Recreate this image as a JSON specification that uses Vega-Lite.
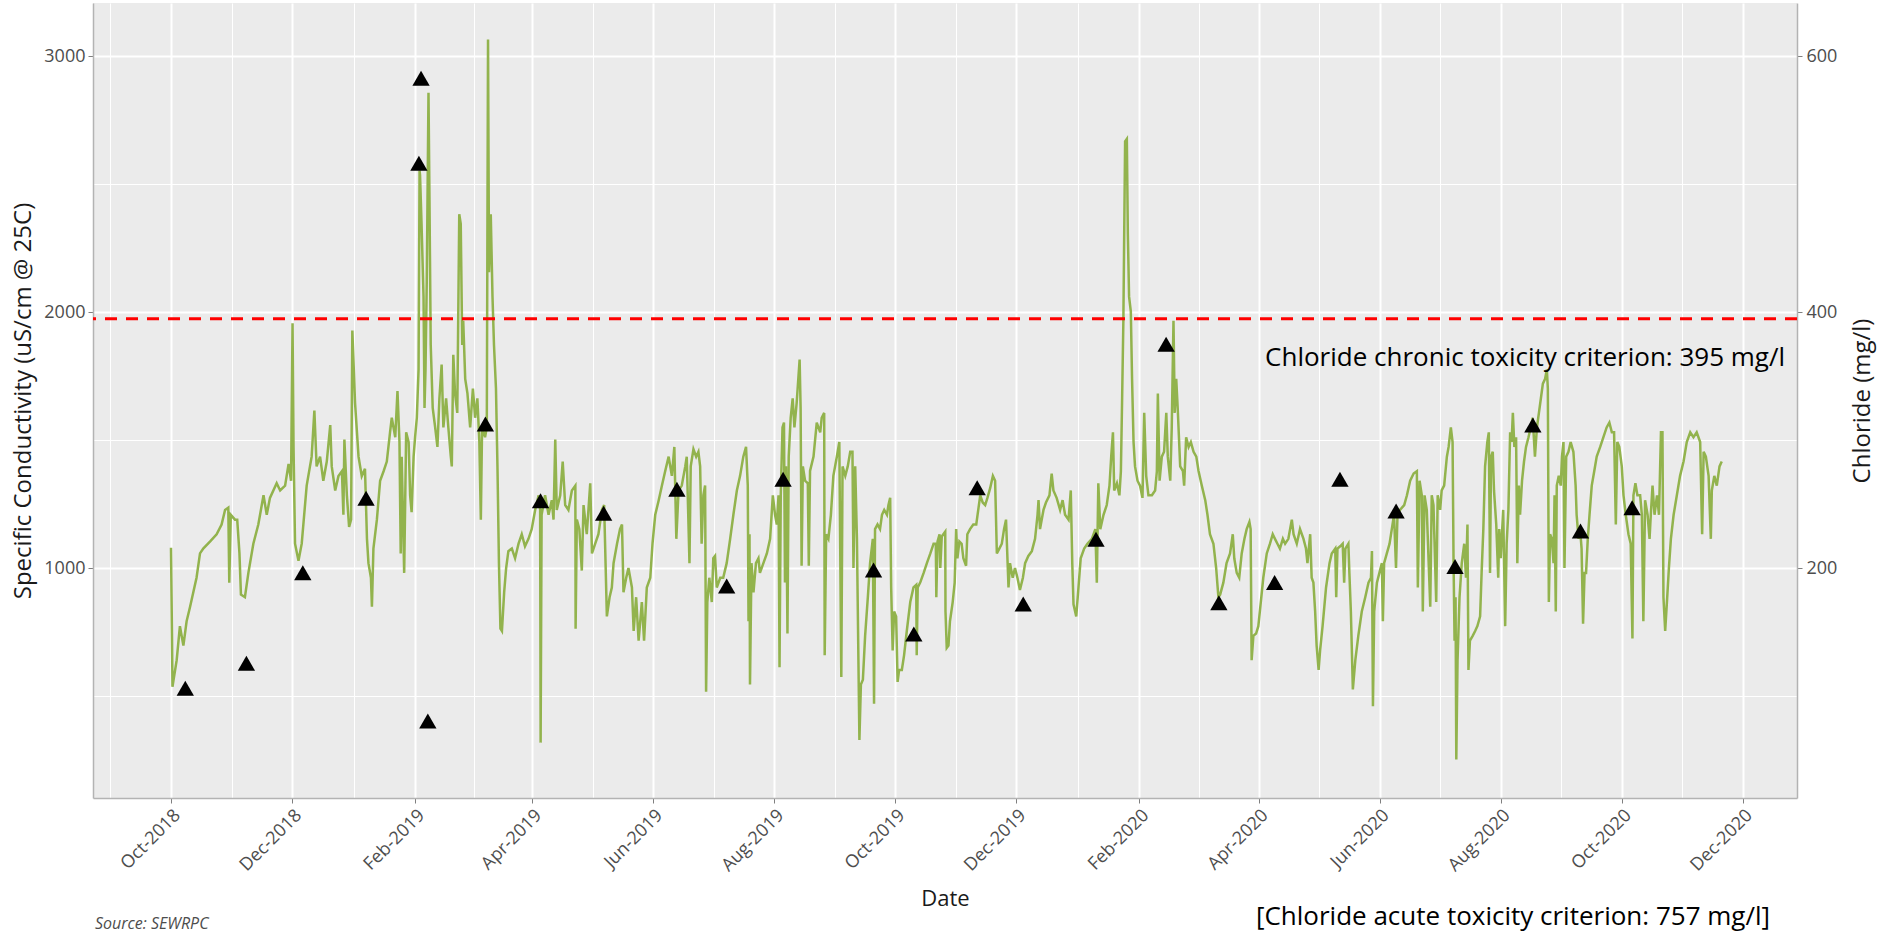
{
"$schema": "https://vega.github.io/schema/vega-lite/v6.json",
"width": 1704, "height": 795,
"autosize": {"type": "none"},
"padding": {"left": 93, "top": 3, "right": 84, "bottom": 136},
"background": "white",
"config": {
  "font": "Open Sans",
  "view": {"fill": "#ebebeb", "stroke": null},
  "axis": {"domainColor": "#b3b3b3", "domainWidth": 1.5, "tickColor": "#7f7f7f", "tickSize": 5, "gridColor": "#ffffff", "labelColor": "#4d4d4d", "labelFont": "Open Sans", "labelFontSize": 18, "titleFont": "Open Sans", "titleFontWeight": "normal", "titleColor": "#1a1a1a"}
},
"layer": [
 {"layer": [
  {"data": {"values": [
{"date":"2018-10-01T00:00","sc":1080},{"date":"2018-10-01T12:00","sc":745},{"date":"2018-10-01T18:00","sc":537},{"date":"2018-10-03T21:00","sc":641},{"date":"2018-10-05T12:00","sc":774},{"date":"2018-10-07T06:00","sc":698},{"date":"2018-10-08T21:00","sc":793},{"date":"2018-10-10T15:00","sc":850},{"date":"2018-10-12T06:00","sc":906},{"date":"2018-10-13T21:00","sc":963},{"date":"2018-10-15T15:00","sc":1058},{"date":"2018-10-17T06:00","sc":1077},{"date":"2018-10-20T18:00","sc":1105},{"date":"2018-10-24T00:00","sc":1133},{"date":"2018-10-26T12:00","sc":1171},{"date":"2018-10-28T06:00","sc":1228},{"date":"2018-10-29T21:00","sc":1237},{"date":"2018-10-30T09:00","sc":944},{"date":"2018-10-31T03:00","sc":1209},{"date":"2018-11-02T06:00","sc":1190},{"date":"2018-11-03T09:00","sc":1190},{"date":"2018-11-04T12:00","sc":1058},{"date":"2018-11-05T06:00","sc":897},{"date":"2018-11-07T06:00","sc":887},{"date":"2018-11-09T00:00","sc":982},{"date":"2018-11-11T12:00","sc":1096},{"date":"2018-11-14T00:00","sc":1171},{"date":"2018-11-16T15:00","sc":1285},{"date":"2018-11-18T06:00","sc":1209},{"date":"2018-11-19T21:00","sc":1275},{"date":"2018-11-23T06:00","sc":1332},{"date":"2018-11-25T00:00","sc":1304},{"date":"2018-11-27T12:00","sc":1323},{"date":"2018-11-29T06:00","sc":1408},{"date":"2018-11-30T12:00","sc":1342},{"date":"2018-12-01T06:00","sc":1957},{"date":"2018-12-01T18:00","sc":1474},{"date":"2018-12-02T12:00","sc":1096},{"date":"2018-12-04T06:00","sc":1029},{"date":"2018-12-05T21:00","sc":1096},{"date":"2018-12-08T09:00","sc":1323},{"date":"2018-12-10T21:00","sc":1436},{"date":"2018-12-12T06:00","sc":1616},{"date":"2018-12-13T09:00","sc":1398},{"date":"2018-12-15T03:00","sc":1436},{"date":"2018-12-16T18:00","sc":1342},{"date":"2018-12-18T12:00","sc":1417},{"date":"2018-12-20T06:00","sc":1559},{"date":"2018-12-21T00:00","sc":1398},{"date":"2018-12-22T18:00","sc":1304},{"date":"2018-12-24T09:00","sc":1360},{"date":"2018-12-26T03:00","sc":1379},{"date":"2018-12-26T21:00","sc":1209},{"date":"2018-12-27T09:00","sc":1503},{"date":"2018-12-28T15:00","sc":1285},{"date":"2018-12-29T18:00","sc":1162},{"date":"2018-12-30T18:00","sc":1190},{"date":"2018-12-31T09:00","sc":1929},{"date":"2019-01-01T18:00","sc":1645},{"date":"2019-01-03T12:00","sc":1436},{"date":"2019-01-05T03:00","sc":1360},{"date":"2019-01-06T18:00","sc":1389},{"date":"2019-01-07T18:00","sc":1115},{"date":"2019-01-08T12:00","sc":1020},{"date":"2019-01-09T18:00","sc":963},{"date":"2019-01-10T06:00","sc":850},{"date":"2019-01-11T00:00","sc":1077},{"date":"2019-01-12T18:00","sc":1190},{"date":"2019-01-14T09:00","sc":1342},{"date":"2019-01-16T03:00","sc":1379},{"date":"2019-01-17T18:00","sc":1417},{"date":"2019-01-19T09:00","sc":1531},{"date":"2019-01-20T06:00","sc":1588},{"date":"2019-01-22T00:00","sc":1512},{"date":"2019-01-23T03:00","sc":1692},{"date":"2019-01-24T03:00","sc":1493},{"date":"2019-01-24T18:00","sc":1058},{"date":"2019-01-25T06:00","sc":1436},{"date":"2019-01-26T12:00","sc":982},{"date":"2019-01-27T12:00","sc":1531},{"date":"2019-01-28T18:00","sc":1493},{"date":"2019-01-29T12:00","sc":1285},{"date":"2019-01-30T06:00","sc":1219},{"date":"2019-01-31T06:00","sc":1436},{"date":"2019-02-01T00:00","sc":1512},{"date":"2019-02-01T21:00","sc":1588},{"date":"2019-02-02T18:00","sc":1777},{"date":"2019-02-03T06:00","sc":2554},
{"date":"2019-02-03T12:00","sc":2535},{"date":"2019-02-04T06:00","sc":2345},{"date":"2019-02-05T06:00","sc":2061},{"date":"2019-02-05T18:00","sc":1626},{"date":"2019-02-06T06:00","sc":1777},{"date":"2019-02-06T21:00","sc":2118},{"date":"2019-02-07T18:00","sc":2857},{"date":"2019-02-08T06:00","sc":2440},{"date":"2019-02-08T21:00","sc":1872},{"date":"2019-02-09T21:00","sc":1626},{"date":"2019-02-11T03:00","sc":1550},{"date":"2019-02-12T06:00","sc":1474},{"date":"2019-02-13T06:00","sc":1664},{"date":"2019-02-14T09:00","sc":1796},{"date":"2019-02-15T06:00","sc":1550},{"date":"2019-02-16T15:00","sc":1664},{"date":"2019-02-17T18:00","sc":1550},{"date":"2019-02-19T00:00","sc":1436},{"date":"2019-02-19T12:00","sc":1398},{"date":"2019-02-20T06:00","sc":1834},{"date":"2019-02-21T03:00","sc":1683},{"date":"2019-02-22T06:00","sc":1607},{"date":"2019-02-23T06:00","sc":2383},{"date":"2019-02-24T00:00","sc":2345},{"date":"2019-02-24T18:00","sc":1872},{"date":"2019-02-25T06:00","sc":1967},{"date":"2019-02-26T06:00","sc":1740},{"date":"2019-02-27T09:00","sc":1683},{"date":"2019-02-28T18:00","sc":1550},{"date":"2019-03-02T03:00","sc":1702},{"date":"2019-03-03T06:00","sc":1588},{"date":"2019-03-04T09:00","sc":1664},{"date":"2019-03-05T09:00","sc":1493},{"date":"2019-03-06T03:00","sc":1190},{"date":"2019-03-06T18:00","sc":1550},{"date":"2019-03-08T06:00","sc":1512},{"date":"2019-03-09T03:00","sc":1550},{"date":"2019-03-09T18:00","sc":3065},{"date":"2019-03-10T06:00","sc":2156},{"date":"2019-03-11T03:00","sc":2383},{"date":"2019-03-12T00:00","sc":2061},{"date":"2019-03-12T18:00","sc":1872},{"date":"2019-03-13T18:00","sc":1702},{"date":"2019-03-14T12:00","sc":1398},{"date":"2019-03-15T06:00","sc":1020},{"date":"2019-03-16T00:00","sc":764},{"date":"2019-03-16T18:00","sc":755},{"date":"2019-03-17T21:00","sc":906},{"date":"2019-03-18T21:00","sc":1001},{"date":"2019-03-20T00:00","sc":1067},{"date":"2019-03-21T18:00","sc":1077},{"date":"2019-03-23T09:00","sc":1039},{"date":"2019-03-25T03:00","sc":1096},{"date":"2019-03-26T18:00","sc":1133},{"date":"2019-03-28T09:00","sc":1086},{"date":"2019-03-30T03:00","sc":1115},{"date":"2019-03-31T18:00","sc":1153},{"date":"2019-04-02T12:00","sc":1228},{"date":"2019-04-04T06:00","sc":1285},{"date":"2019-04-05T00:00","sc":1228},{"date":"2019-04-05T06:00","sc":319},{"date":"2019-04-05T18:00","sc":1209},{"date":"2019-04-07T12:00","sc":1285},{"date":"2019-04-09T06:00","sc":1209},{"date":"2019-04-10T21:00","sc":1266},{"date":"2019-04-11T18:00","sc":1190},{"date":"2019-04-12T15:00","sc":1503},{"date":"2019-04-13T09:00","sc":1228},{"date":"2019-04-15T03:00","sc":1285},{"date":"2019-04-16T09:00","sc":1417},{"date":"2019-04-17T15:00","sc":1247},{"date":"2019-04-19T06:00","sc":1228},{"date":"2019-04-21T00:00","sc":1304},{"date":"2019-04-22T18:00","sc":1323},{"date":"2019-04-22T21:00","sc":764},{"date":"2019-04-23T12:00","sc":1190},{"date":"2019-04-24T18:00","sc":1153},{"date":"2019-04-26T00:00","sc":991},{"date":"2019-04-26T21:00","sc":1247},{"date":"2019-04-28T12:00","sc":1133},{"date":"2019-04-30T06:00","sc":1332},{"date":"2019-05-01T03:00","sc":1058},{"date":"2019-05-02T18:00","sc":1096},{"date":"2019-05-04T09:00","sc":1133},{"date":"2019-05-06T03:00","sc":1228},{"date":"2019-05-07T06:00","sc":1247},{"date":"2019-05-08T15:00","sc":812},{"date":"2019-05-10T00:00","sc":887},{"date":"2019-05-11T03:00","sc":925},{"date":"2019-05-12T00:00","sc":1020},{"date":"2019-05-13T18:00","sc":1096},{"date":"2019-05-15T06:00","sc":1153},{"date":"2019-05-16T06:00","sc":1171},{"date":"2019-05-17T00:00","sc":906},{"date":"2019-05-18T09:00","sc":963},{"date":"2019-05-19T12:00","sc":1001},{"date":"2019-05-21T06:00","sc":925},{"date":"2019-05-22T03:00","sc":755},{"date":"2019-05-23T09:00","sc":887},{"date":"2019-05-24T15:00","sc":717},{"date":"2019-05-26T06:00","sc":868},{"date":"2019-05-27T09:00","sc":717},{"date":"2019-05-28T18:00","sc":925},{"date":"2019-05-30T12:00","sc":963},{"date":"2019-05-31T15:00","sc":1096},{"date":"2019-06-02T00:00","sc":1209},{"date":"2019-06-03T18:00","sc":1266},{"date":"2019-06-05T09:00","sc":1323},{"date":"2019-06-07T00:00","sc":1379},{"date":"2019-06-08T18:00","sc":1436},{"date":"2019-06-10T09:00","sc":1361},{"date":"2019-06-11T15:00","sc":1474},{"date":"2019-06-12T15:00","sc":1115},{"date":"2019-06-13T18:00","sc":1304},{"date":"2019-06-15T09:00","sc":1323},{"date":"2019-06-17T03:00","sc":1398},
{"date":"2019-06-17T21:00","sc":1436},{"date":"2019-06-19T06:00","sc":1020},{"date":"2019-06-19T21:00","sc":1398},{"date":"2019-06-21T06:00","sc":1465},{"date":"2019-06-22T15:00","sc":1436},{"date":"2019-06-23T18:00","sc":1455},{"date":"2019-06-24T15:00","sc":1398},{"date":"2019-06-25T09:00","sc":1096},{"date":"2019-06-26T06:00","sc":1285},{"date":"2019-06-27T03:00","sc":1323},{"date":"2019-06-27T15:00","sc":518},{"date":"2019-06-28T06:00","sc":868},{"date":"2019-06-29T06:00","sc":963},{"date":"2019-06-30T12:00","sc":868},{"date":"2019-07-01T06:00","sc":1039},{"date":"2019-07-02T03:00","sc":1048},{"date":"2019-07-03T00:00","sc":925},{"date":"2019-07-04T18:00","sc":963},{"date":"2019-07-06T06:00","sc":963},{"date":"2019-07-08T00:00","sc":1020},{"date":"2019-07-09T18:00","sc":1115},{"date":"2019-07-11T09:00","sc":1209},{"date":"2019-07-13T03:00","sc":1304},{"date":"2019-07-14T18:00","sc":1361},{"date":"2019-07-16T09:00","sc":1436},{"date":"2019-07-17T18:00","sc":1474},{"date":"2019-07-18T15:00","sc":1323},{"date":"2019-07-19T00:00","sc":793},{"date":"2019-07-19T12:00","sc":1133},{"date":"2019-07-19T18:00","sc":546},{"date":"2019-07-20T12:00","sc":1020},{"date":"2019-07-21T12:00","sc":906},{"date":"2019-07-22T18:00","sc":1020},{"date":"2019-07-24T00:00","sc":1039},{"date":"2019-07-24T18:00","sc":982},{"date":"2019-07-26T12:00","sc":1020},{"date":"2019-07-28T06:00","sc":1058},{"date":"2019-07-29T21:00","sc":1115},{"date":"2019-07-31T06:00","sc":1285},{"date":"2019-08-01T09:00","sc":1209},{"date":"2019-08-02T06:00","sc":1171},{"date":"2019-08-03T03:00","sc":1285},{"date":"2019-08-03T15:00","sc":613},{"date":"2019-08-04T06:00","sc":1285},{"date":"2019-08-05T03:00","sc":1550},{"date":"2019-08-05T21:00","sc":1569},{"date":"2019-08-06T09:00","sc":944},{"date":"2019-08-06T21:00","sc":1398},{"date":"2019-08-07T15:00","sc":745},{"date":"2019-08-08T06:00","sc":1436},{"date":"2019-08-09T06:00","sc":1588},{"date":"2019-08-10T06:00","sc":1664},{"date":"2019-08-11T03:00","sc":1550},{"date":"2019-08-12T06:00","sc":1645},{"date":"2019-08-13T18:00","sc":1815},{"date":"2019-08-14T06:00","sc":1626},{"date":"2019-08-14T18:00","sc":1010},{"date":"2019-08-15T09:00","sc":1398},{"date":"2019-08-16T12:00","sc":1342},{"date":"2019-08-17T21:00","sc":1332},{"date":"2019-08-18T09:00","sc":1010},{"date":"2019-08-19T00:00","sc":1380},{"date":"2019-08-20T18:00","sc":1436},{"date":"2019-08-22T09:00","sc":1569},{"date":"2019-08-24T03:00","sc":1531},{"date":"2019-08-24T21:00","sc":1588},{"date":"2019-08-26T03:00","sc":1607},{"date":"2019-08-26T09:00","sc":660},{"date":"2019-08-27T03:00","sc":1133},{"date":"2019-08-28T06:00","sc":1115},{"date":"2019-08-29T12:00","sc":1209},{"date":"2019-08-30T18:00","sc":1361},{"date":"2019-09-01T12:00","sc":1436},{"date":"2019-09-02T18:00","sc":1493},{"date":"2019-09-03T18:00","sc":575},{"date":"2019-09-04T09:00","sc":1398},{"date":"2019-09-05T18:00","sc":1361},{"date":"2019-09-07T00:00","sc":1398},{"date":"2019-09-08T06:00","sc":1455},{"date":"2019-09-09T09:00","sc":1455},{"date":"2019-09-09T21:00","sc":1001},{"date":"2019-09-10T18:00","sc":1398},{"date":"2019-09-11T15:00","sc":1115},{"date":"2019-09-12T09:00","sc":641},{"date":"2019-09-12T21:00","sc":329},{"date":"2019-09-13T15:00","sc":546},{"date":"2019-09-14T15:00","sc":565},{"date":"2019-09-15T18:00","sc":736},{"date":"2019-09-17T03:00","sc":887},{"date":"2019-09-18T06:00","sc":1020},{"date":"2019-09-19T15:00","sc":1115},{"date":"2019-09-20T06:00","sc":471},{"date":"2019-09-20T18:00","sc":1153},{"date":"2019-09-22T00:00","sc":1171},{"date":"2019-09-23T06:00","sc":1153},{"date":"2019-09-24T06:00","sc":1209},{"date":"2019-09-25T09:00","sc":1228},{"date":"2019-09-26T18:00","sc":1209},{"date":"2019-09-27T12:00","sc":1247},{"date":"2019-09-28T09:00","sc":1275},{"date":"2019-09-28T21:00","sc":925},{"date":"2019-09-29T15:00","sc":679},{"date":"2019-09-30T09:00","sc":831},{"date":"2019-10-01T09:00","sc":812},{"date":"2019-10-02T03:00","sc":556},{"date":"2019-10-02T21:00","sc":603},{"date":"2019-10-04T06:00","sc":603},{"date":"2019-10-05T09:00","sc":660},{"date":"2019-10-06T18:00","sc":755},{"date":"2019-10-08T12:00","sc":868},{"date":"2019-10-10T03:00","sc":925},{"date":"2019-10-11T12:00","sc":935},{"date":"2019-10-11T18:00","sc":660},{"date":"2019-10-12T06:00","sc":925},{"date":"2019-10-13T12:00","sc":944},{"date":"2019-10-15T06:00","sc":982},{"date":"2019-10-16T21:00","sc":1020},{"date":"2019-10-18T15:00","sc":1058},{"date":"2019-10-20T06:00","sc":1096},{"date":"2019-10-21T09:00","sc":1096},{"date":"2019-10-21T15:00","sc":887},{"date":"2019-10-22T06:00","sc":1105},{"date":"2019-10-23T06:00","sc":1133},{"date":"2019-10-23T15:00","sc":1001},{"date":"2019-10-24T09:00","sc":1124},{"date":"2019-10-26T03:00","sc":1143},
{"date":"2019-10-26T06:00","sc":831},{"date":"2019-10-26T21:00","sc":689},{"date":"2019-10-27T18:00","sc":698},{"date":"2019-10-28T12:00","sc":793},{"date":"2019-10-29T21:00","sc":868},{"date":"2019-10-30T21:00","sc":944},{"date":"2019-10-31T15:00","sc":1153},{"date":"2019-11-01T06:00","sc":1039},{"date":"2019-11-02T06:00","sc":1105},{"date":"2019-11-03T09:00","sc":1096},{"date":"2019-11-04T06:00","sc":1039},{"date":"2019-11-05T15:00","sc":1010},{"date":"2019-11-06T06:00","sc":1133},{"date":"2019-11-07T15:00","sc":1153},{"date":"2019-11-09T06:00","sc":1171},{"date":"2019-11-10T18:00","sc":1171},{"date":"2019-11-11T18:00","sc":1228},{"date":"2019-11-12T18:00","sc":1285},{"date":"2019-11-14T00:00","sc":1257},{"date":"2019-11-15T06:00","sc":1247},{"date":"2019-11-16T09:00","sc":1275},{"date":"2019-11-17T18:00","sc":1313},{"date":"2019-11-19T03:00","sc":1361},{"date":"2019-11-20T06:00","sc":1342},{"date":"2019-11-21T03:00","sc":1058},{"date":"2019-11-22T09:00","sc":1077},{"date":"2019-11-23T15:00","sc":1096},{"date":"2019-11-24T18:00","sc":1153},{"date":"2019-11-25T18:00","sc":1190},{"date":"2019-11-27T00:00","sc":925},{"date":"2019-11-27T18:00","sc":1020},{"date":"2019-11-29T03:00","sc":963},{"date":"2019-11-30T06:00","sc":1001},{"date":"2019-12-01T12:00","sc":963},{"date":"2019-12-02T18:00","sc":915},{"date":"2019-12-04T06:00","sc":963},{"date":"2019-12-05T09:00","sc":1020},{"date":"2019-12-07T00:00","sc":1048},{"date":"2019-12-08T18:00","sc":1067},{"date":"2019-12-10T09:00","sc":1115},{"date":"2019-12-11T15:00","sc":1209},{"date":"2019-12-12T03:00","sc":1266},{"date":"2019-12-12T21:00","sc":1153},{"date":"2019-12-14T15:00","sc":1228},{"date":"2019-12-15T21:00","sc":1257},{"date":"2019-12-17T15:00","sc":1285},{"date":"2019-12-18T18:00","sc":1370},{"date":"2019-12-19T15:00","sc":1304},{"date":"2019-12-21T06:00","sc":1275},{"date":"2019-12-23T00:00","sc":1228},{"date":"2019-12-24T06:00","sc":1266},{"date":"2019-12-25T12:00","sc":1209},{"date":"2019-12-27T06:00","sc":1190},{"date":"2019-12-28T09:00","sc":1304},{"date":"2019-12-29T03:00","sc":1020},{"date":"2019-12-29T18:00","sc":859},{"date":"2019-12-31T03:00","sc":812},{"date":"2020-01-01T06:00","sc":925},{"date":"2020-01-02T09:00","sc":1039},{"date":"2020-01-04T03:00","sc":1077},{"date":"2020-01-05T18:00","sc":1096},{"date":"2020-01-08T00:00","sc":1115},{"date":"2020-01-09T18:00","sc":1153},{"date":"2020-01-10T12:00","sc":944},{"date":"2020-01-11T06:00","sc":1332},{"date":"2020-01-12T06:00","sc":1153},{"date":"2020-01-13T21:00","sc":1209},{"date":"2020-01-15T12:00","sc":1247},{"date":"2020-01-16T21:00","sc":1323},{"date":"2020-01-17T18:00","sc":1436},{"date":"2020-01-18T15:00","sc":1531},{"date":"2020-01-19T06:00","sc":1304},{"date":"2020-01-20T15:00","sc":1332},{"date":"2020-01-21T21:00","sc":1285},{"date":"2020-01-22T15:00","sc":1379},{"date":"2020-01-23T06:00","sc":1664},{"date":"2020-01-23T21:00","sc":1967},{"date":"2020-01-24T18:00","sc":2667},{"date":"2020-01-25T15:00","sc":2677},{"date":"2020-01-26T03:00","sc":2307},{"date":"2020-01-26T18:00","sc":2061},{"date":"2020-01-27T15:00","sc":2004},{"date":"2020-01-28T06:00","sc":1740},{"date":"2020-01-29T00:00","sc":1493},{"date":"2020-01-29T18:00","sc":1398},{"date":"2020-01-31T00:00","sc":1342},{"date":"2020-02-01T06:00","sc":1323},{"date":"2020-02-02T12:00","sc":1275},{"date":"2020-02-03T09:00","sc":1607},{"date":"2020-02-04T09:00","sc":1361},{"date":"2020-02-05T12:00","sc":1285},{"date":"2020-02-07T06:00","sc":1285},{"date":"2020-02-08T21:00","sc":1304},{"date":"2020-02-09T18:00","sc":1379},{"date":"2020-02-10T06:00","sc":1683},{"date":"2020-02-11T03:00","sc":1342},{"date":"2020-02-12T06:00","sc":1436},{"date":"2020-02-13T09:00","sc":1455},{"date":"2020-02-14T12:00","sc":1607},{"date":"2020-02-15T06:00","sc":1436},{"date":"2020-02-16T12:00","sc":1342},{"date":"2020-02-17T06:00","sc":1550},{"date":"2020-02-18T03:00","sc":1967},{"date":"2020-02-18T18:00","sc":1607},{"date":"2020-02-19T12:00","sc":1740},{"date":"2020-02-20T06:00","sc":1626},{"date":"2020-02-21T12:00","sc":1398},{"date":"2020-02-22T21:00","sc":1380},{"date":"2020-02-23T12:00","sc":1323},{"date":"2020-02-24T12:00","sc":1512},{"date":"2020-02-25T18:00","sc":1474},{"date":"2020-02-26T21:00","sc":1493},{"date":"2020-02-28T06:00","sc":1455},{"date":"2020-02-29T15:00","sc":1436},{"date":"2020-03-01T18:00","sc":1380},{"date":"2020-03-03T09:00","sc":1323},{"date":"2020-03-05T03:00","sc":1266},
{"date":"2020-03-06T06:00","sc":1209},{"date":"2020-03-07T12:00","sc":1133},{"date":"2020-03-09T06:00","sc":1096},{"date":"2020-03-10T15:00","sc":1001},{"date":"2020-03-11T18:00","sc":887},{"date":"2020-03-12T15:00","sc":897},{"date":"2020-03-14T06:00","sc":944},{"date":"2020-03-15T21:00","sc":1020},{"date":"2020-03-17T15:00","sc":1058},{"date":"2020-03-19T00:00","sc":1133},{"date":"2020-03-19T18:00","sc":1039},{"date":"2020-03-21T00:00","sc":982},{"date":"2020-03-22T06:00","sc":963},{"date":"2020-03-23T12:00","sc":1058},{"date":"2020-03-24T21:00","sc":1115},{"date":"2020-03-26T00:00","sc":1153},{"date":"2020-03-27T09:00","sc":1181},{"date":"2020-03-28T00:00","sc":1153},{"date":"2020-03-28T12:00","sc":641},{"date":"2020-03-29T09:00","sc":736},{"date":"2020-03-30T18:00","sc":745},{"date":"2020-03-31T21:00","sc":774},{"date":"2020-04-02T03:00","sc":868},{"date":"2020-04-03T09:00","sc":963},{"date":"2020-04-05T03:00","sc":1058},{"date":"2020-04-06T18:00","sc":1096},{"date":"2020-04-08T03:00","sc":1133},{"date":"2020-04-09T06:00","sc":1115},{"date":"2020-04-10T12:00","sc":1096},{"date":"2020-04-11T18:00","sc":1077},{"date":"2020-04-13T06:00","sc":1115},{"date":"2020-04-14T09:00","sc":1096},{"date":"2020-04-16T00:00","sc":1115},{"date":"2020-04-17T18:00","sc":1190},{"date":"2020-04-18T15:00","sc":1133},{"date":"2020-04-20T06:00","sc":1096},{"date":"2020-04-21T21:00","sc":1153},{"date":"2020-04-23T15:00","sc":1115},{"date":"2020-04-24T21:00","sc":1077},{"date":"2020-04-25T15:00","sc":1020},{"date":"2020-04-27T00:00","sc":1133},{"date":"2020-04-27T18:00","sc":963},{"date":"2020-04-28T15:00","sc":944},{"date":"2020-04-29T12:00","sc":831},{"date":"2020-04-30T06:00","sc":698},{"date":"2020-05-01T06:00","sc":603},{"date":"2020-05-02T00:00","sc":679},{"date":"2020-05-03T06:00","sc":774},{"date":"2020-05-05T00:00","sc":925},{"date":"2020-05-06T18:00","sc":1020},{"date":"2020-05-07T21:00","sc":1058},{"date":"2020-05-09T15:00","sc":1077},{"date":"2020-05-10T03:00","sc":887},{"date":"2020-05-10T18:00","sc":1077},{"date":"2020-05-12T03:00","sc":1086},{"date":"2020-05-13T09:00","sc":1096},{"date":"2020-05-14T03:00","sc":944},{"date":"2020-05-14T18:00","sc":1077},{"date":"2020-05-16T06:00","sc":1096},{"date":"2020-05-16T18:00","sc":982},{"date":"2020-05-17T12:00","sc":831},{"date":"2020-05-18T12:00","sc":527},{"date":"2020-05-19T18:00","sc":641},{"date":"2020-05-21T06:00","sc":736},{"date":"2020-05-23T00:00","sc":831},{"date":"2020-05-24T18:00","sc":887},{"date":"2020-05-26T09:00","sc":944},{"date":"2020-05-27T15:00","sc":963},{"date":"2020-05-28T03:00","sc":1067},{"date":"2020-05-28T15:00","sc":461},{"date":"2020-05-29T06:00","sc":831},{"date":"2020-05-30T15:00","sc":944},{"date":"2020-05-31T21:00","sc":982},{"date":"2020-06-02T03:00","sc":1020},{"date":"2020-06-02T15:00","sc":793},{"date":"2020-06-03T06:00","sc":1020},{"date":"2020-06-04T15:00","sc":1058},{"date":"2020-06-06T00:00","sc":1096},{"date":"2020-06-07T03:00","sc":1153},{"date":"2020-06-08T06:00","sc":1209},{"date":"2020-06-09T06:00","sc":1001},{"date":"2020-06-10T00:00","sc":1209},{"date":"2020-06-11T06:00","sc":1228},{"date":"2020-06-13T09:00","sc":1247},{"date":"2020-06-14T18:00","sc":1285},{"date":"2020-06-16T09:00","sc":1342},{"date":"2020-06-18T03:00","sc":1370},{"date":"2020-06-19T18:00","sc":1379},{"date":"2020-06-20T06:00","sc":925},{"date":"2020-06-21T03:00","sc":1342},{"date":"2020-06-22T06:00","sc":1285},{"date":"2020-06-22T18:00","sc":831},{"date":"2020-06-23T15:00","sc":1285},{"date":"2020-06-24T18:00","sc":1228},{"date":"2020-06-26T12:00","sc":850},{"date":"2020-06-27T06:00","sc":1285},{"date":"2020-06-28T03:00","sc":1247},{"date":"2020-06-29T12:00","sc":868},{"date":"2020-06-30T06:00","sc":1285},{"date":"2020-07-01T12:00","sc":1228},{"date":"2020-07-02T06:00","sc":1304},{"date":"2020-07-03T12:00","sc":1323},{"date":"2020-07-04T21:00","sc":1436},{"date":"2020-07-05T18:00","sc":1474},{"date":"2020-07-06T21:00","sc":1550},{"date":"2020-07-07T18:00","sc":1493},{"date":"2020-07-08T06:00","sc":1020},{"date":"2020-07-08T18:00","sc":717},{"date":"2020-07-09T06:00","sc":887},{"date":"2020-07-09T15:00","sc":253},{"date":"2020-07-10T06:00","sc":641},{"date":"2020-07-11T06:00","sc":887},{"date":"2020-07-12T09:00","sc":1020},{"date":"2020-07-13T15:00","sc":1096},
{"date":"2020-07-14T12:00","sc":963},{"date":"2020-07-15T06:00","sc":1171},{"date":"2020-07-15T18:00","sc":603},{"date":"2020-07-16T12:00","sc":717},{"date":"2020-07-17T21:00","sc":736},{"date":"2020-07-19T03:00","sc":755},{"date":"2020-07-20T06:00","sc":774},{"date":"2020-07-21T15:00","sc":812},{"date":"2020-07-22T09:00","sc":982},{"date":"2020-07-23T06:00","sc":1153},{"date":"2020-07-24T03:00","sc":1398},{"date":"2020-07-25T06:00","sc":1493},{"date":"2020-07-26T00:00","sc":1531},{"date":"2020-07-26T15:00","sc":982},{"date":"2020-07-27T03:00","sc":1436},{"date":"2020-07-28T00:00","sc":1455},{"date":"2020-07-28T15:00","sc":1304},{"date":"2020-07-29T18:00","sc":1171},{"date":"2020-07-30T18:00","sc":963},{"date":"2020-07-31T06:00","sc":1153},{"date":"2020-08-01T00:00","sc":1039},{"date":"2020-08-02T06:00","sc":1228},{"date":"2020-08-03T06:00","sc":774},{"date":"2020-08-04T00:00","sc":1096},{"date":"2020-08-04T21:00","sc":1228},{"date":"2020-08-05T18:00","sc":1531},{"date":"2020-08-06T12:00","sc":1493},{"date":"2020-08-07T03:00","sc":1607},{"date":"2020-08-07T21:00","sc":1474},{"date":"2020-08-08T18:00","sc":1512},{"date":"2020-08-09T09:00","sc":1020},{"date":"2020-08-10T03:00","sc":1323},{"date":"2020-08-10T18:00","sc":1209},{"date":"2020-08-11T18:00","sc":1342},{"date":"2020-08-12T18:00","sc":1417},{"date":"2020-08-13T18:00","sc":1474},{"date":"2020-08-15T00:00","sc":1512},{"date":"2020-08-16T03:00","sc":1550},{"date":"2020-08-17T03:00","sc":1588},{"date":"2020-08-18T06:00","sc":1436},{"date":"2020-08-19T06:00","sc":1550},{"date":"2020-08-20T06:00","sc":1607},{"date":"2020-08-21T06:00","sc":1664},{"date":"2020-08-22T06:00","sc":1721},{"date":"2020-08-23T09:00","sc":1740},{"date":"2020-08-24T06:00","sc":1777},{"date":"2020-08-24T18:00","sc":1702},{"date":"2020-08-25T06:00","sc":868},{"date":"2020-08-25T21:00","sc":1133},{"date":"2020-08-26T18:00","sc":1115},{"date":"2020-08-27T15:00","sc":1020},{"date":"2020-08-28T03:00","sc":1285},{"date":"2020-08-28T18:00","sc":831},{"date":"2020-08-29T06:00","sc":1323},{"date":"2020-08-30T06:00","sc":1361},{"date":"2020-08-31T06:00","sc":1323},{"date":"2020-08-31T21:00","sc":1436},{"date":"2020-09-01T15:00","sc":1493},{"date":"2020-09-02T03:00","sc":1001},{"date":"2020-09-03T00:00","sc":1436},{"date":"2020-09-04T03:00","sc":1455},{"date":"2020-09-05T06:00","sc":1493},{"date":"2020-09-06T15:00","sc":1455},{"date":"2020-09-07T18:00","sc":1323},{"date":"2020-09-08T06:00","sc":1209},{"date":"2020-09-09T06:00","sc":1115},{"date":"2020-09-10T00:00","sc":1153},{"date":"2020-09-10T18:00","sc":1077},{"date":"2020-09-11T12:00","sc":783},{"date":"2020-09-12T06:00","sc":982},{"date":"2020-09-13T00:00","sc":982},{"date":"2020-09-13T21:00","sc":1115},{"date":"2020-09-14T18:00","sc":1209},{"date":"2020-09-15T21:00","sc":1323},{"date":"2020-09-17T03:00","sc":1379},{"date":"2020-09-18T09:00","sc":1436},{"date":"2020-09-20T03:00","sc":1474},{"date":"2020-09-21T18:00","sc":1512},{"date":"2020-09-23T09:00","sc":1550},{"date":"2020-09-24T18:00","sc":1569},{"date":"2020-09-26T00:00","sc":1531},{"date":"2020-09-27T03:00","sc":1531},{"date":"2020-09-28T00:00","sc":1171},{"date":"2020-09-28T18:00","sc":1493},{"date":"2020-09-29T18:00","sc":1474},{"date":"2020-10-01T00:00","sc":1398},{"date":"2020-10-01T21:00","sc":1285},{"date":"2020-10-03T00:00","sc":1209},{"date":"2020-10-04T09:00","sc":1133},{"date":"2020-10-05T12:00","sc":1096},{"date":"2020-10-06T09:00","sc":726},{"date":"2020-10-06T21:00","sc":1285},{"date":"2020-10-07T21:00","sc":1332},{"date":"2020-10-08T21:00","sc":1285},{"date":"2020-10-10T06:00","sc":1285},{"date":"2020-10-11T03:00","sc":1209},{"date":"2020-10-11T21:00","sc":793},{"date":"2020-10-12T18:00","sc":1266},{"date":"2020-10-14T00:00","sc":1209},{"date":"2020-10-15T00:00","sc":1115},{"date":"2020-10-15T15:00","sc":1209},{"date":"2020-10-16T12:00","sc":1323},{"date":"2020-10-17T12:00","sc":1209},{"date":"2020-10-18T18:00","sc":1285},{"date":"2020-10-19T18:00","sc":1209},{"date":"2020-10-20T18:00","sc":1531},{"date":"2020-10-21T12:00","sc":1531},{"date":"2020-10-22T00:00","sc":887},{"date":"2020-10-22T21:00","sc":755},{"date":"2020-10-23T18:00","sc":868},{"date":"2020-10-24T18:00","sc":1001},{"date":"2020-10-25T18:00","sc":1115},{"date":"2020-10-27T03:00","sc":1209},{"date":"2020-10-28T18:00","sc":1285},{"date":"2020-10-30T09:00","sc":1361},{"date":"2020-11-01T03:00","sc":1417},{"date":"2020-11-02T18:00","sc":1493},{"date":"2020-11-04T12:00","sc":1531},{"date":"2020-11-06T03:00","sc":1512},{"date":"2020-11-07T18:00","sc":1531},{"date":"2020-11-09T12:00","sc":1493},{"date":"2020-11-10T12:00","sc":1133},{"date":"2020-11-11T06:00","sc":1455},{"date":"2020-11-12T09:00","sc":1436},{"date":"2020-11-13T18:00","sc":1361},{"date":"2020-11-14T21:00","sc":1115},{"date":"2020-11-15T09:00","sc":1304},{"date":"2020-11-16T15:00","sc":1361},{"date":"2020-11-17T21:00","sc":1323},{"date":"2020-11-19T06:00","sc":1398},{"date":"2020-11-20T09:00","sc":1417}
  ]},
   "mark": {"type": "line", "color": "#92b34d", "strokeWidth": 2.5, "strokeJoin": "miter"},
   "encoding": {
     "x": {"field": "date", "type": "temporal",
       "scale": {"domain": [{"year": 2018, "month": 8, "date": 22, "hours": 17}, {"year": 2020, "month": 12, "date": 28, "hours": 7}], "nice": false},
       "axis": {"title": "Date", "titleFontSize": 22, "titlePadding": 14,
         "values": [{"year":2018,"month":8,"date":31,"hours":12},{"year":2018,"month":10,"date":1},{"year":2018,"month":10,"date":31,"hours":12},{"year":2018,"month":12,"date":1},{"year":2019,"month":1,"date":1},{"year":2019,"month":2,"date":1},{"year":2019,"month":3,"date":2,"hours":12},{"year":2019,"month":4,"date":1},{"year":2019,"month":5,"date":1,"hours":12},{"year":2019,"month":6,"date":1},{"year":2019,"month":7,"date":1,"hours":12},{"year":2019,"month":8,"date":1},{"year":2019,"month":8,"date":31,"hours":12},{"year":2019,"month":10,"date":1},{"year":2019,"month":10,"date":31,"hours":12},{"year":2019,"month":12,"date":1},{"year":2020,"month":1,"date":1},{"year":2020,"month":2,"date":1},{"year":2020,"month":3,"date":2},{"year":2020,"month":4,"date":1},{"year":2020,"month":5,"date":1,"hours":12},{"year":2020,"month":6,"date":1},{"year":2020,"month":7,"date":1,"hours":12},{"year":2020,"month":8,"date":1},{"year":2020,"month":8,"date":31,"hours":12},{"year":2020,"month":10,"date":1},{"year":2020,"month":10,"date":31,"hours":12},{"year":2020,"month":12,"date":1}],
         "labelExpr": "(date(datum.value) == 1 && hours(datum.value) == 0 && month(datum.value) % 2 == 1) ? timeFormat(datum.value, '%b-%Y') : ''",
         "labelAngle": -45, "labelAlign": "right", "labelBaseline": "top", "labelPadding": 3, "labelOverlap": false, "labelBound": false, "labelFlush": false,
         "gridWidth": {"condition": {"test": "date(datum.value) == 1 && hours(datum.value) == 0 && month(datum.value) % 2 == 1", "value": 2}, "value": 1},
         "tickOpacity": {"condition": {"test": "date(datum.value) == 1 && hours(datum.value) == 0 && month(datum.value) % 2 == 1", "value": 1}, "value": 0}
       }},
     "y": {"field": "sc", "type": "quantitative",
       "scale": {"domain": [102.7, 3208], "nice": false, "zero": false},
       "axis": {"title": "Specific Conductivity (uS/cm @ 25C)", "titleFontSize": 24, "titlePadding": 8,
         "values": [500, 1000, 1500, 2000, 2500, 3000], "format": "d",
         "labelExpr": "datum.value % 1000 == 0 ? datum.label : ''", "labelPadding": 3,
         "gridWidth": {"condition": {"test": "datum.value % 1000 == 0", "value": 2}, "value": 1},
         "tickOpacity": {"condition": {"test": "datum.value % 1000 == 0", "value": 1}, "value": 0}
       }}
   }},
  {"data": {"values": [{"criterion": "chronic"}]},
   "mark": {"type": "rule", "color": "#ff0000", "strokeWidth": 3, "strokeDash": [12, 9]},
   "encoding": {"y": {"datum": 1975}}},
  {"data": {"values": [{"label": "Chloride chronic toxicity criterion: 395 mg/l"}]},
   "mark": {"type": "text", "align": "right", "baseline": "alphabetic", "fontSize": 26, "color": "#000000", "font": "Open Sans"},
   "encoding": {"x": {"datum": {"year": 2020, "month": 12, "date": 22, "hours": 7}, "type": "temporal"}, "y": {"datum": 1792}, "text": {"field": "label"}}},
  {"data": {"values": [{"label": "[Chloride acute toxicity criterion: 757 mg/l]"}]},
   "mark": {"type": "text", "align": "right", "baseline": "alphabetic", "fontSize": 26, "color": "#000000", "font": "Open Sans"},
   "encoding": {"x": {"datum": {"year": 2020, "month": 12, "date": 14, "hours": 17}, "type": "temporal"}, "y": {"datum": -393}, "text": {"field": "label"}}},
  {"data": {"values": [{"label": "Source: SEWRPC"}]},
   "mark": {"type": "text", "align": "left", "baseline": "top", "fontSize": 16, "fontStyle": "italic", "color": "#4d4d4d", "font": "Open Sans"},
   "encoding": {"x": {"datum": {"year": 2018, "month": 8, "date": 23, "hours": 17}, "type": "temporal"}, "y": {"datum": -360}, "text": {"field": "label"}}}
 ]},
 {"data": {"values": [
{"date":"2018-10-08T05:00","cl":106.3},{"date":"2018-11-08T00:00","cl":125.8},{"date":"2018-12-06T10:00","cl":196.6},{"date":"2019-01-07T07:00","cl":254.7},{"date":"2019-02-04T00:00","cl":582.8},{"date":"2019-02-02T22:00","cl":516.4},{"date":"2019-02-07T10:00","cl":80.7},{"date":"2019-03-08T10:00","cl":312.7},{"date":"2019-04-05T05:00","cl":252.8},{"date":"2019-05-07T00:00","cl":243},{"date":"2019-06-12T22:00","cl":261.7},{"date":"2019-07-08T00:00","cl":186.2},{"date":"2019-08-05T10:00","cl":269.5},{"date":"2019-09-20T00:00","cl":198.7},{"date":"2019-10-10T07:00","cl":148.7},{"date":"2019-11-11T05:00","cl":263},{"date":"2019-12-04T10:00","cl":172.1},{"date":"2020-01-10T02:00","cl":222.7},{"date":"2020-02-14T10:00","cl":375},{"date":"2020-03-12T00:00","cl":173.1},{"date":"2020-04-09T02:00","cl":188.8},{"date":"2020-05-12T00:00","cl":269.5},{"date":"2020-06-09T07:00","cl":244.8},{"date":"2020-07-09T00:00","cl":201.3},{"date":"2020-08-17T05:00","cl":312},{"date":"2020-09-10T05:00","cl":229.1},{"date":"2020-10-06T05:00","cl":247.3}
  ]},
  "mark": {"type": "point", "shape": "triangle-up", "filled": true, "color": "#000000", "size": 300, "opacity": 1},
  "encoding": {
    "x": {"field": "date", "type": "temporal", "title": "Date",
      "scale": {"domain": [{"year": 2018, "month": 8, "date": 22, "hours": 17}, {"year": 2020, "month": 12, "date": 28, "hours": 7}], "nice": false}},
    "y": {"field": "cl", "type": "quantitative",
      "scale": {"domain": [20.54, 641.6], "nice": false, "zero": false},
      "axis": {"orient": "right", "title": "Chloride (mg/l)", "titleFontSize": 24, "titleAngle": 270, "titlePadding": 38,
        "values": [200, 400, 600], "format": "d", "grid": false, "labelPadding": 4}}
  }}
],
"resolve": {"scale": {"y": "independent"}}
}
